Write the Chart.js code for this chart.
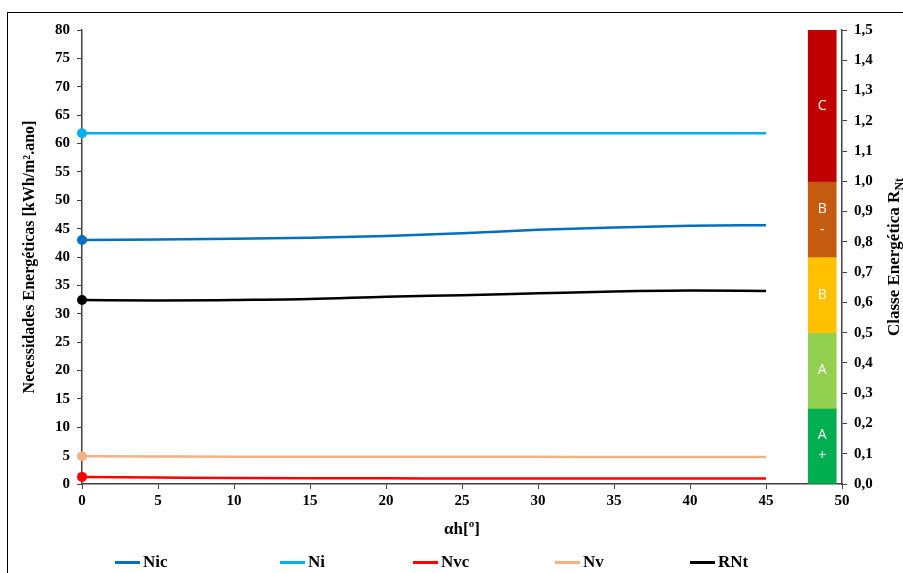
<!DOCTYPE html>
<html lang="pt">
<head>
  <meta charset="UTF-8" />
  <title>Necessidades Energéticas vs αh</title>
  <script src="https://cdn.jsdelivr.net/npm/chart.js"></script>
  <style>
    html, body {
      margin: 0;
      padding: 0;
      background: #fff;
      overflow: hidden;
    }
    #frame {
      position: absolute;
      left: 7px;
      top: 12px;
      width: 1000px;
      height: 1000px;
      border: 1px solid #000;
    }
    #chartContainer {
      position: absolute;
      left: 0;
      top: 0;
      width: 903px;
      height: 573px;
    }
    #legend {
      position: absolute;
      left: 115px;
      top: 552px;
      display: flex;
      font-family: "Liberation Serif", "Times New Roman", serif;
      font-weight: bold;
      font-size: 17px;
      color: #000;
    }
    #legend .item {
      display: flex;
      align-items: center;
    }
    #legend .item:nth-child(1) { width: 165px; }
    #legend .item:nth-child(2) { width: 133px; }
    #legend .item:nth-child(3) { width: 142px; }
    #legend .item:nth-child(4) { width: 135px; }
    #legend .swatch {
      width: 25px;
      height: 3px;
      margin-right: 3px;
    }
  </style>
</head>
<body>
  <div id="frame"></div>
  <div id="chartContainer">
    <canvas id="mainChart" width="903" height="573"></canvas>
  </div>
  <div id="legend"></div>

  <script>
    // values
    const alphaH = [0, 5, 10, 15, 20, 25, 30, 35, 40, 45];
    const nic = [43.0, 43.1, 43.2, 43.4, 43.7, 44.2, 44.8, 45.2, 45.5, 45.6];
    const ni = [61.8, 61.8, 61.8, 61.8, 61.8, 61.8, 61.8, 61.8, 61.8, 61.8];
    const nvc = [1.25, 1.15, 1.05, 1.0, 1.0, 0.95, 0.95, 0.95, 0.95, 0.95];
    const nv = [4.9, 4.85, 4.8, 4.8, 4.8, 4.8, 4.8, 4.75, 4.75, 4.75];
    const rnt = [0.608, 0.606, 0.608, 0.611, 0.619, 0.624, 0.630, 0.636, 0.639, 0.638];

    // energy class scale (right axis)
    const classX = 48.7;
    const classLow = [0, 0.25, 0.5, 0.75, 1.0];
    const classHigh = [0.25, 0.5, 0.75, 1.0, 1.5];
    const classNames = ['A\n+', 'A', 'B', 'B\n-', 'C'];
    const classColors = ['#00B050', '#92D050', '#FFC000', '#C55A11', '#C00000'];

    const serif = '"Liberation Serif", "Times New Roman", serif';

    function toPoints(ys) {
      return alphaH.map((x, i) => ({ x: x, y: ys[i] }));
    }

    function lineSet(label, ys, color, axis) {
      return {
        type: 'line',
        label: label,
        data: toPoints(ys),
        yAxisID: axis,
        borderColor: color,
        backgroundColor: color,
        borderWidth: 2.5,
        cubicInterpolationMode: 'monotone',
        fill: false,
        clip: false,
        pointRadius: ctx => ctx.dataIndex === 0 ? 5 : 0,
        pointHoverRadius: 0,
        pointBorderWidth: 0
      };
    }

    const classLabels = {
      id: 'classLabels',
      afterDatasetsDraw(chart) {
        const meta = chart.getDatasetMeta(5);
        const ctx = chart.ctx;
        ctx.save();
        ctx.fillStyle = '#fff';
        ctx.font = '14px "Open Sans", sans-serif';
        ctx.textAlign = 'center';
        ctx.textBaseline = 'middle';
        meta.data.forEach((bar, i) => {
          const lines = classNames[i].split('\n');
          const mid = (bar.y + bar.base) / 2;
          const step = 21;
          const start = mid - (lines.length - 1) * step / 2;
          lines.forEach((t, j) => ctx.fillText(t, bar.x, start + j * step));
        });
        ctx.restore();
      }
    };

    // right axis title, read bottom to top like the left one
    const rightTitle = {
      id: 'rightTitle',
      afterDraw(chart) {
        const ctx = chart.ctx;
        const area = chart.chartArea;
        const main = 'Classe Energética R';
        const sub = 'Nt';
        ctx.save();
        ctx.fillStyle = '#000';
        ctx.font = 'bold 17px ' + serif;
        const w1 = ctx.measureText(main).width;
        ctx.font = 'bold 12px ' + serif;
        const w2 = ctx.measureText(sub).width;
        ctx.translate(899, (area.top + area.bottom) / 2);
        ctx.rotate(-Math.PI / 2);
        ctx.textBaseline = 'alphabetic';
        ctx.textAlign = 'left';
        const x0 = -(w1 + w2) / 2;
        ctx.font = 'bold 17px ' + serif;
        ctx.fillText(main, x0, 0);
        ctx.font = 'bold 12px ' + serif;
        ctx.fillText(sub, x0 + w1, 4);
        ctx.restore();
      }
    };

    const tickFont = { family: serif, size: 15, weight: 'bold' };
    const axisColor = '#404040';

    const chart = new Chart(document.getElementById('mainChart'), {
      type: 'line',
      data: {
        datasets: [
          lineSet('Nic', nic, '#0070C0', 'y'),
          lineSet('Ni', ni, '#00B0F0', 'y'),
          lineSet('Nvc', nvc, '#FF0000', 'y'),
          lineSet('Nv', nv, '#F4B183', 'y'),
          lineSet('RNt', rnt, '#000000', 'y2'),
          {
            type: 'bar',
            label: 'Classe',
            data: classLow.map((lo, i) => ({ x: classX, y: [lo, classHigh[i]] })),
            yAxisID: 'y2',
            backgroundColor: classColors,
            borderWidth: 0,
            barThickness: 28,
            order: 10
          }
        ]
      },
      options: {
        responsive: false,
        animation: false,
        events: [],
        layout: { padding: { left: 16, top: 30, right: 0, bottom: 29 } },
        plugins: {
          legend: { display: false },
          tooltip: { enabled: false }
        },
        scales: {
          x: {
            type: 'linear',
            min: 0,
            max: 50,
            offset: false,
            afterFit: s => { s.height = 60; },
            ticks: { stepSize: 5, color: '#000', font: tickFont, padding: 3, maxRotation: 0 },
            grid: { offset: false, drawOnChartArea: false, tickLength: 5, color: axisColor },
            border: { color: axisColor, width: 1.5 },
            title: {
              display: true,
              text: 'αh[º]',
              color: '#000',
              font: { family: serif, size: 17, weight: 'bold' },
              padding: { top: 4, bottom: 4 }
            }
          },
          y: {
            position: 'left',
            min: 0,
            max: 80,
            afterFit: s => { s.width = 66; },
            ticks: { stepSize: 5, color: '#000', font: tickFont, padding: 7 },
            grid: { drawOnChartArea: false, tickLength: 5, color: axisColor },
            border: { color: axisColor, width: 1.5 },
            title: {
              display: true,
              text: 'Necessidades Energéticas [kWh/m².ano]',
              color: '#000',
              font: { family: serif, size: 16, weight: 'bold' },
              padding: { top: 4, bottom: 4 }
            }
          },
          y2: {
            position: 'right',
            min: 0,
            max: 1.5,
            afterFit: s => { s.width = 61; },
            ticks: {
              stepSize: 0.1,
              color: '#000',
              font: tickFont,
              padding: 7,
              callback: v => v.toFixed(1).replace('.', ',')
            },
            grid: { drawOnChartArea: false, tickLength: 5, color: axisColor },
            border: { color: axisColor, width: 1.5 }
          }
        }
      },
      plugins: [classLabels, rightTitle]
    });

    // legend for the line series
    const legendBox = document.getElementById('legend');
    chart.data.datasets.filter(d => d.type === 'line').forEach(d => {
      const item = document.createElement('div');
      item.className = 'item';
      const sw = document.createElement('span');
      sw.className = 'swatch';
      sw.style.background = d.borderColor;
      const txt = document.createElement('span');
      txt.textContent = d.label;
      item.appendChild(sw);
      item.appendChild(txt);
      legendBox.appendChild(item);
    });
  </script>
</body>
</html>
